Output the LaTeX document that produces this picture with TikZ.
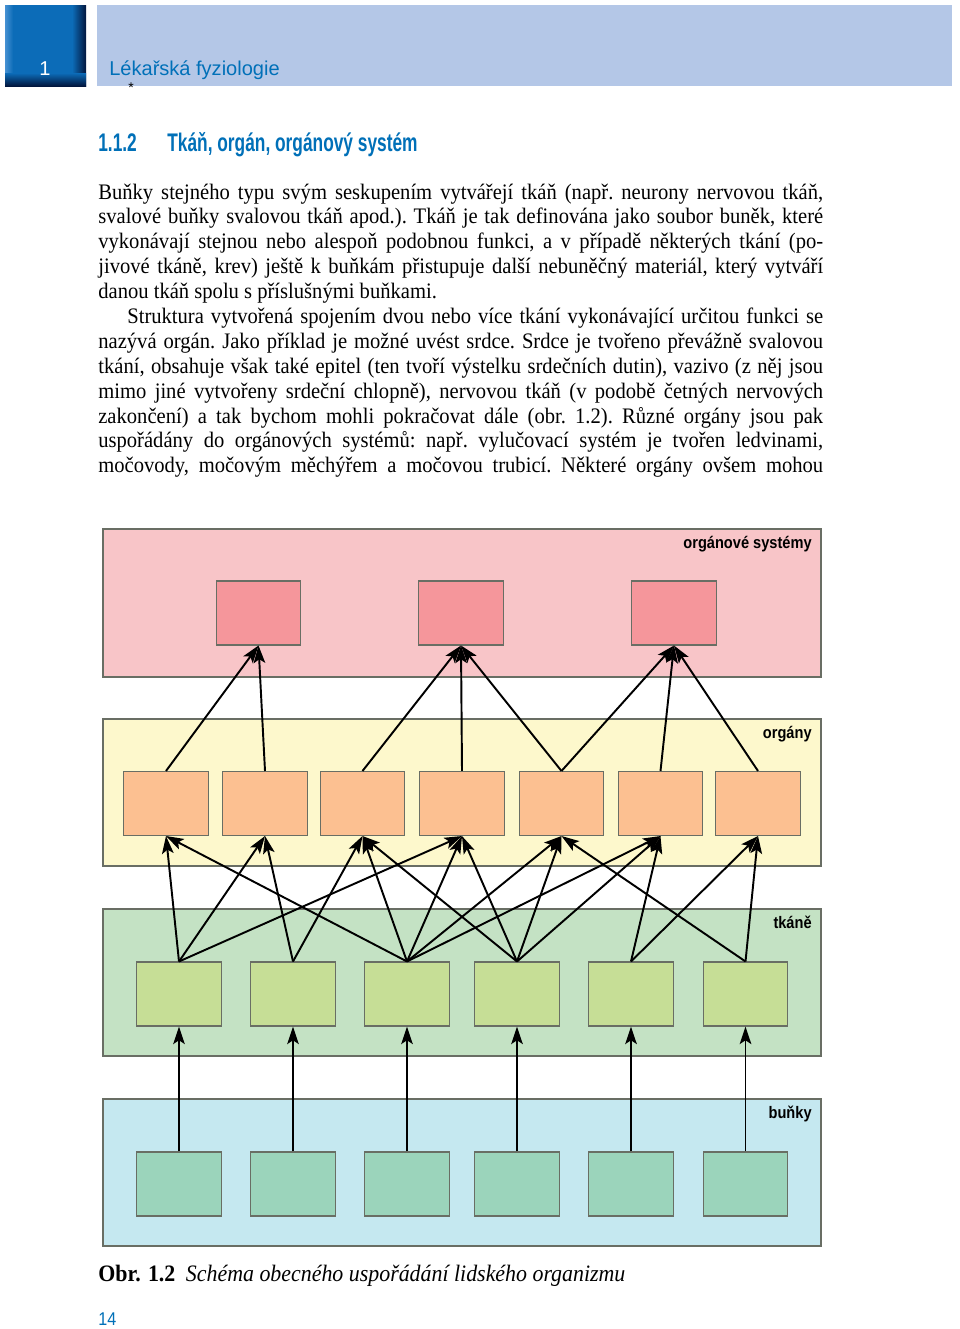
\documentclass[tikz,border=0pt]{standalone}
\usepackage{fontspec}
\setmainfont{Liberation Serif}[FakeStretch=0.93]
\newfontfamily\headfont{Liberation Sans}
\newfontfamily\condfont{Liberation Sans}[FakeStretch=0.68]
\newfontfamily\lblfont{Liberation Sans}[FakeStretch=0.875]
\usetikzlibrary{arrows.meta}

\definecolor{headblue}{RGB}{0,112,184}
\definecolor{boxblue}{RGB}{12,108,184}
\definecolor{boxnavy}{RGB}{2,22,62}
\definecolor{boxlight}{RGB}{70,145,210}
\definecolor{barblue}{RGB}{180,199,231}
\definecolor{frame}{RGB}{105,110,100}
\definecolor{sysbg}{RGB}{248,197,200}
\definecolor{sysfill}{RGB}{245,150,155}
\definecolor{orgbg}{RGB}{253,248,204}
\definecolor{orgfill}{RGB}{252,192,145}
\definecolor{tisbg}{RGB}{196,226,196}
\definecolor{tisfill}{RGB}{198,222,150}
\definecolor{celbg}{RGB}{197,232,240}
\definecolor{celfill}{RGB}{155,212,187}

\tikzset{
  layer/.style={draw=frame, line width=0.6pt},
  unit/.style={draw=frame, line width=0.6pt, minimum width=1.69cm, minimum height=1.28cm, inner sep=0pt},
  lbl/.style={font=\lblfont\bfseries\fontsize{9.5}{11}\selectfont, anchor=base east, inner sep=0pt},
  arr/.style={-{Stealth[length=10pt,width=6.6pt,inset=2.2pt]}, line width=1.1pt},
  txt/.style={anchor=base west, inner sep=0pt},
}

\begin{document}
\begin{tikzpicture}[x=0.02cm, y=-0.02cm]
    \fill[white] (0,0) rectangle (960,1329);
    \useasboundingbox (0,0) rectangle (960,1329);
    % page head
    \fill[boxblue] (5,5) rectangle (86,86);
    \shade[left color=boxlight, right color=boxblue] (5,5) rectangle (13,86);
    \shade[left color=boxblue, right color=boxnavy] (72,5) rectangle (86,86);
    \shade[top color=boxblue, bottom color=boxnavy] (5,73) rectangle (86,86);
    \fill[barblue] (97,5) rectangle (952,86);
    \node[txt, anchor=base, text=white, font=\headfont\fontsize{11.4}{13}\selectfont] (chap) at (45,75) {1};
    \node[txt, text=headblue, font=\headfont\fontsize{11.4}{13}\selectfont] (book) at (109,75) {Lékařská fyziologie};
    \node[inner sep=0pt, font=\headfont\fontsize{8}{9}\selectfont] (star) at (131,88) {*};
    \node[txt, text=headblue, font=\condfont\bfseries\fontsize{14.5}{17}\selectfont] (secno) at (98,151) {1.1.2};
    \node[txt, text=headblue, font=\condfont\bfseries\fontsize{14.5}{17}\selectfont] (sectitle) at (167,151) {Tkáň, orgán, orgánový systém};
    % body text
    \node[txt] (body) at (98,199) {\begin{minipage}[t]{14.5cm}
      \fontsize{12.6}{14.17}\selectfont\parindent=16.5pt\hyphenpenalty=10000\frenchspacing
      \noindent Buňky stejného typu svým seskupením vytvářejí tkáň (např. neurony nervovou tkáň,\linebreak
      svalové buňky svalovou tkáň apod.). Tkáň je tak definována jako soubor buněk, které\linebreak
      vykonávají stejnou nebo alespoň podobnou funkci, a v případě některých tkání (po-\linebreak
      jivové tkáně, krev) ještě k buňkám přistupuje další nebuněčný materiál, který vytváří\linebreak
      danou tkáň spolu s příslušnými buňkami.\par
      {\parfillskip=0pt Struktura vytvořená spojením dvou nebo více tkání vykonávající určitou funkci se\linebreak
      nazývá orgán. Jako příklad je možné uvést srdce. Srdce je tvořeno převážně svalovou\linebreak
      tkání, obsahuje však také epitel (ten tvoří výstelku srdečních dutin), vazivo (z~něj jsou\linebreak
      mimo jiné vytvořeny srdeční chlopně), nervovou tkáň (v podobě četných nervových\linebreak
      zakončení) a tak bychom mohli pokračovat dále (obr. 1.2). Různé orgány jsou pak\linebreak
      uspořádány do orgánových systémů: např. vylučovací systém je tvořen ledvinami,\linebreak
      močovody, močovým měchýřem a močovou trubicí. Některé orgány ovšem mohou\par}
    \end{minipage}};
    % layers
    \filldraw[layer, fill=sysbg] (103,529) rectangle (821,677);
    \filldraw[layer, fill=orgbg] (103,719) rectangle (821,866);
    \filldraw[layer, fill=tisbg] (103,909) rectangle (821,1056);
    \filldraw[layer, fill=celbg] (103,1099) rectangle (821,1246);
    \node[lbl] (lsys) at (812,548) {orgánové systémy};
    \node[lbl] (lorg) at (812,738) {orgány};
    \node[lbl] (ltis) at (812,928) {tkáně};
    \node[lbl] (lcel) at (812,1118) {buňky};
    % boxes
    \foreach \n/\x in {1/258.5,2/461,3/674}
      \node[unit, fill=sysfill] (s\n) at (\x,613) {};
    \foreach \n/\x in {1/166,2/265,3/362.5,4/462,5/561.5,6/660.5,7/758}
      \node[unit, fill=orgfill] (o\n) at (\x,803.5) {};
    \foreach \n/\x in {1/179,2/293,3/407,4/517,5/631,6/745.5} {
      \node[unit, fill=tisfill] (t\n) at (\x,994) {};
      \node[unit, fill=celfill] (c\n) at (\x,1184) {};
    }
    % arrows
    \foreach \o/\s in {1/1,2/1,3/2,4/2,5/2,5/3,6/3,7/3}
      \draw[arr] (o\o.north) -- (s\s.south);
    \foreach \t/\o in {1/1,3/1,1/2,2/2,2/3,3/3,4/3,1/4,3/4,4/4,3/5,4/5,6/5,3/6,4/6,5/6,5/7,6/7}
      \draw[arr] (t\t.north) -- (o\o.south);
    \foreach \c in {1,...,6}
      \draw[arr] (c\c.north) -- (t\c.south);
    % caption
    \node[txt, font=\fontsize{13.4}{15}\selectfont] (cap) at (98,1281) {\textbf{Obr. 1.2}\hspace{6pt}\textit{Schéma obecného uspořádání lidského organizmu}};
    \node[txt, text=headblue, font=\lblfont\fontsize{10.5}{12}\selectfont] (pgno) at (98,1325) {14};
\end{tikzpicture}
\end{document}
